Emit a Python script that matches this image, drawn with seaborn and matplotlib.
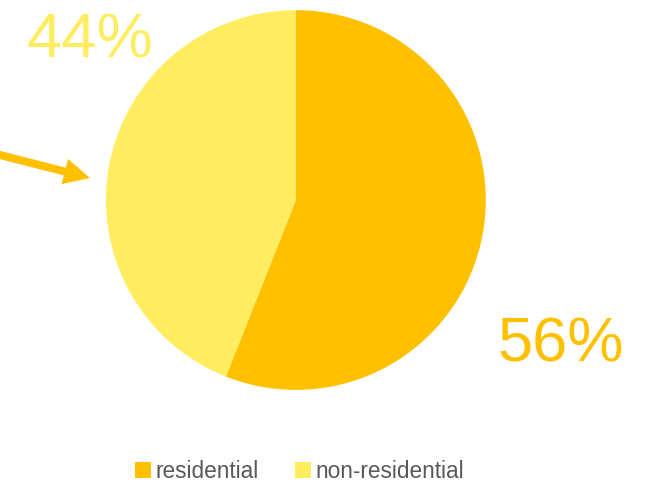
import matplotlib
matplotlib.use("Agg")
import matplotlib.pyplot as plt
from matplotlib.patches import Patch, FancyArrow
from matplotlib.transforms import IdentityTransform
import seaborn as sns

#----------DATA-----------------#
categories = ["residential", "non-residential"]
shares     = [56, 44]
colors     = ["#FFC000", "#FFED5F"]

#----------STYLE----------------#
sns.set_theme(style="white")
plt.rcParams["font.family"] = ["Liberation Sans", "DejaVu Sans"]

W, H = 646, 482
fig = plt.figure(figsize=(W / 100, H / 100), dpi=100)
ax = fig.add_axes([0.164, 0.191, 0.588, 0.788])

ax.pie(shares, colors=colors, startangle=90, counterclock=False,
       wedgeprops=dict(linewidth=0))
ax.set_xlim(-1, 1)
ax.set_ylim(-1, 1)
ax.axis("off")

#----------LABELS---------------#
fig.text(27 / W, 1 - 57 / H, f"{shares[1]}%", color=colors[1],
         fontsize=45.5, ha="left", va="baseline")
fig.text(497 / W, 1 - 362 / H, f"{shares[0]}%", color=colors[0],
         fontsize=45.5, ha="left", va="baseline")

#----------ARROW (pixel coords, origin bottom-left)#
fig.patches.append(FancyArrow(
    -4, H - 154, 94, -24,
    width=8, head_width=26, head_length=26,
    length_includes_head=True, color=colors[0], linewidth=0,
    transform=IdentityTransform(), figure=fig))

#----------LEGEND---------------#
handles = [Patch(facecolor=c, edgecolor="none") for c in colors]
fig.legend(handles, categories, loc="center", bbox_to_anchor=(0.464, 1 - 471 / H),
           ncol=2, frameon=False, fontsize=16.3, labelcolor="#595959",
           borderpad=0, borderaxespad=0,
           handlelength=0.7, handleheight=0.7, handletextpad=0.2, columnspacing=1.6)

plt.savefig("out.png", dpi=100)
